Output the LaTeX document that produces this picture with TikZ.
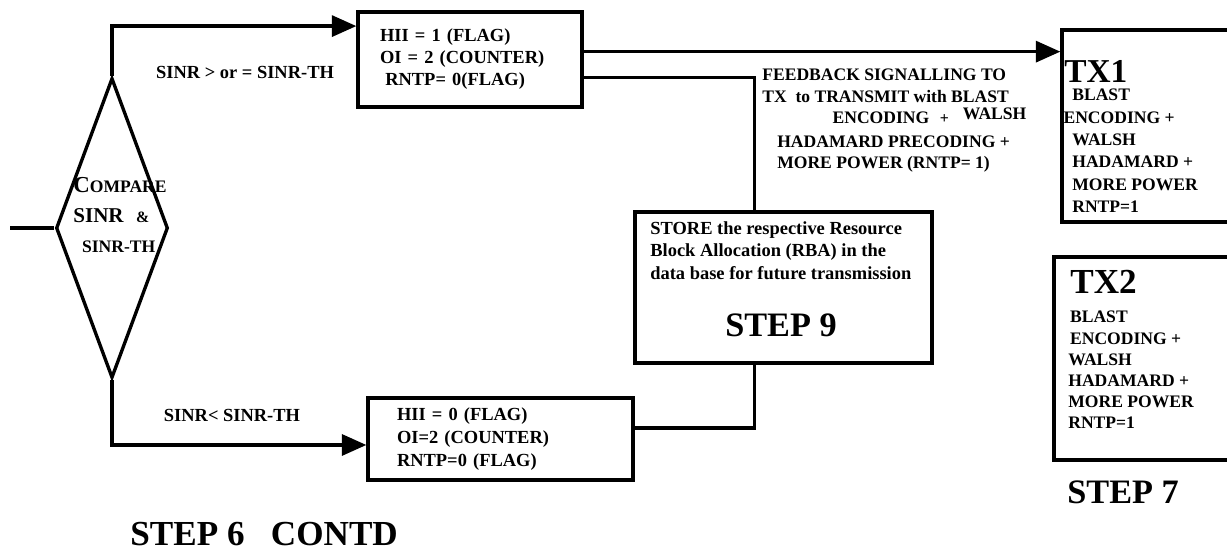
\documentclass[tikz,border=0pt]{standalone}
\usepackage{fontspec}
\setmainfont{Liberation Serif}
\usetikzlibrary{shapes.geometric,arrows.meta,calc,positioning}

\newcommand{\fsz}[2]{\fontsize{#1}{#2}\selectfont\bfseries}

\tikzset{
  box/.style={draw, line width=1.9pt, inner ysep=0pt, align=left},
  link/.style={draw, line width=1.9pt},
  flow/.style={link, -{Triangle[length=14pt,width=12pt]}},
  txt/.style={inner sep=0pt, align=left}
}

\begin{document}
\begin{tikzpicture}[x=0.02cm, y=-0.02cm]
  \clip (0,0) rectangle (1227,552);
  % decision
  \node[diamond, draw, line width=1.9pt, minimum width=2.24cm, minimum height=6cm, inner sep=0pt] (cmp) at (112,228) {};
  \node[txt, anchor=north west, font=\fsz{10}{17}] (cmptxt) at (73,177)
    {{\fontsize{13}{17}\selectfont C}OMPARE\\ {\fontsize{12}{17}\selectfont SINR}\hspace{7pt}{\fontsize{9}{17}\selectfont\&}\\ \hspace*{5pt}SINR-TH};
  \coordinate (src) at (10,228);

  % flag boxes
  \node[box, minimum width=4.48cm, minimum height=1.9cm, text width=3.6cm, inner xsep=0.44cm, font=\fsz{10.5}{12.5}] (hi) at (470,59.5)
    {HII = 1 (FLAG)\\ OI = 2 (COUNTER)\\ \hspace*{3pt}RNTP= 0(FLAG)\\[4pt]};
  \node[box, minimum width=5.3cm, minimum height=1.64cm, text width=4.14cm, inner xsep=0.58cm, font=\fsz{10.5}{13}] (lo) at (500.5,439)
    {HII = 0 (FLAG)\\ OI=2 (COUNTER)\\ RNTP=0 (FLAG)};
  \node[txt, font=\fsz{10.5}{12}] (geq) at (245,72) {SINR > or = SINR-TH};
  \node[txt, font=\fsz{10.5}{12}] (less) at (232,415) {SINR< SINR-TH};

  % step 9
  \node[box, minimum width=5.94cm, minimum height=3.02cm] (store) at (783.5,287.5) {};
  \node[txt, anchor=north west, font=\fsz{10.5}{12.8}] (storetxt) at (650,221)
    {STORE the respective Resource\\ Block Allocation (RBA) in the\\ data base for future transmission};
  \node[txt, font=\fsz{19.5}{20}] (step9) at (781,325) {STEP 9};

  \node[txt, anchor=north west, font=\fsz{10}{12}] (fb) at (762,69)
    {FEEDBACK SIGNALLING TO\\ TX\ \ to TRANSMIT with BLAST\\
     \hspace*{40pt}ENCODING\hspace{6pt}{\small +}\hspace{8pt}\raisebox{2pt}{WALSH}\\[2pt]
     \hspace*{8.5pt}HADAMARD PRECODING +\\ \hspace*{8.5pt}MORE POWER (RNTP= 1)};

  % transmitters
  \node[box, minimum width=3.66cm, minimum height=3.84cm] (tx1) at (1153.5,126) {};
  \node[txt, anchor=base west, font=\fsz{19}{20}] (tx1ttl) at (1064,82) {TX1};
  \node[txt, anchor=north west, font=\fsz{10}{12.7}] (tx1txt) at (1072,89)
    {BLAST\\ \hspace*{-5pt}ENCODING +\\ WALSH\\ HADAMARD +\\ MORE POWER\\ RNTP=1};
  \node[box, minimum width=3.82cm, minimum height=4.06cm] (tx2) at (1149.5,358.5) {};
  \node[txt, anchor=base west, font=\fsz{20}{20}] (tx2ttl) at (1070,293) {TX2};
  \node[txt, anchor=north west, font=\fsz{10}{12}] (tx2txt) at (1068,311)
    {\hspace*{1pt}BLAST\\ \hspace*{1pt}ENCODING +\\ WALSH\\ HADAMARD +\\ MORE POWER\\ RNTP=1};
  \node[txt, anchor=base west, font=\fsz{19.5}{20}] (step7) at (1067,503) {STEP 7};
  \node[txt, anchor=base west, font=\fsz{20}{20}] (step6) at (130,545) {STEP 6\hspace{0.75em}CONTD};

  % connectors
  \coordinate (hitx) at ($(hi.north east)!0.42!(hi.south east)$);
  \draw[link] (src) -- (cmp.west);
  \draw[flow] (cmp.north) |- ($(hi.north west)!0.16!(hi.south west)$);
  \draw[flow] (cmp.south) |- ($(lo.north west)!0.57!(lo.south west)$);
  \draw[flow] (hitx) -- (hitx -| tx1.west);
  \draw[link] ($(hi.north east)!0.68!(hi.south east)$) -| ($(store.north west)!0.404!(store.north east)$);
  \draw[link] ($(lo.north east)!0.37!(lo.south east)$) -| ($(store.south west)!0.404!(store.south east)$);
\end{tikzpicture}
\end{document}
